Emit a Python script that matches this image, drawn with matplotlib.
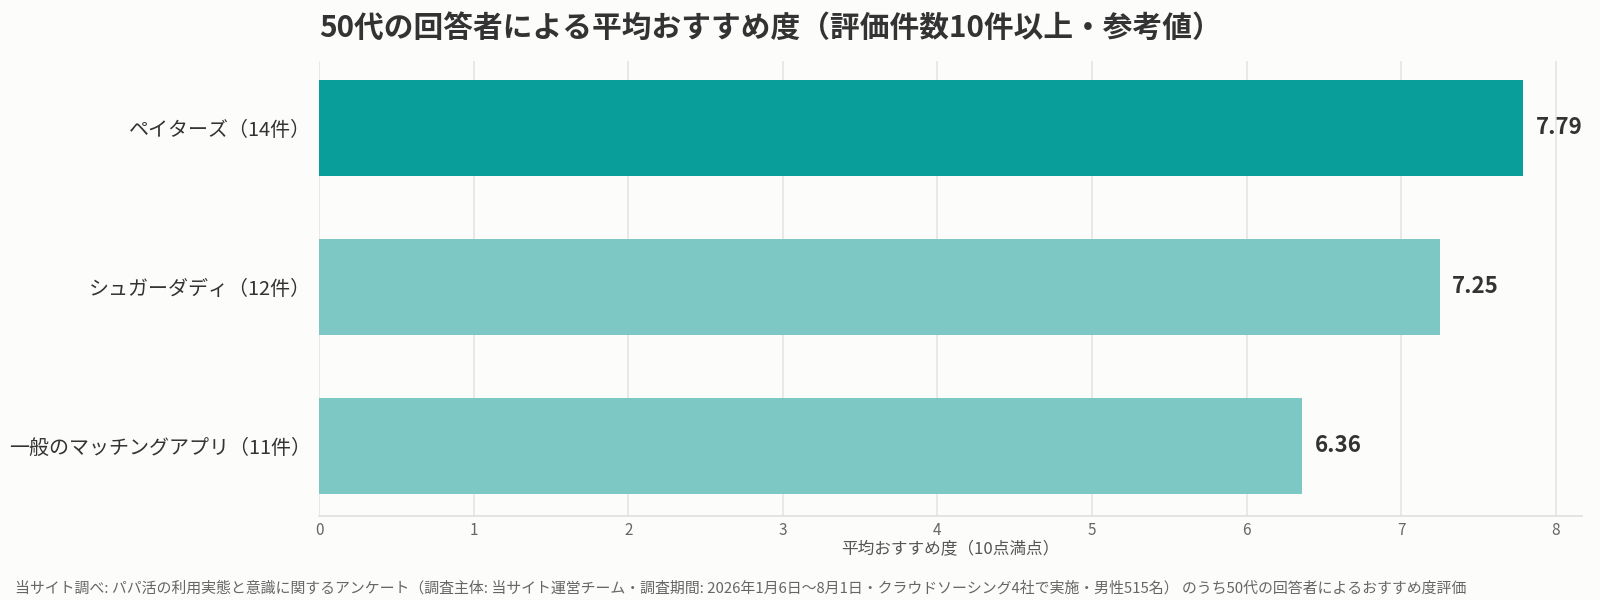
import matplotlib
matplotlib.use('Agg')
import matplotlib.pyplot as plt

plt.rcParams['font.family'] = ['Noto Sans CJK JP', 'DejaVu Sans']

# data
labels = ['ペイターズ（14件）', 'シュガーダディ（12件）', '一般のマッチングアプリ（11件）']
scores = [7.79, 7.25, 6.36]
colors = ['#0a9e9a', '#7dc7c4', '#7dc7c4']
ticks = [0, 1, 2, 3, 4, 5, 6, 7, 8]

bg = '#fcfcfb'
fig = plt.figure(figsize=(16, 6), dpi=100, facecolor=bg)
# axes box measured in pixels from the reference
L, R, T, B = 319, 1582, 61, 516
ax = fig.add_axes([L/1600, 1-B/600, (R-L)/1600, (B-T)/600])
ax.set_facecolor(bg)

y = list(range(len(labels)))
ax.barh(y, scores, height=0.6, color=colors, zorder=3)
for yi, v in zip(y, scores):
    ax.text(v + 0.08, yi, f'{v:.2f}', va='center', ha='left',
            fontsize=16, fontweight='bold', color='#333333')

ax.set_ylim(2.44, -0.42)
ax.set_xlim(0, 8.17)
ax.set_yticks(y)
ax.set_yticklabels(labels, fontsize=14.4, color='#333333')
ax.set_xticks(ticks)
ax.set_xticklabels([str(t) for t in ticks], fontsize=11, color='#666666')
ax.tick_params(axis='y', length=0, pad=6)
ax.tick_params(axis='x', length=0, pad=4)
ax.grid(axis='x', color='#e4e4e4', linewidth=1.2, zorder=0)
for s in ['top', 'right', 'left']:
    ax.spines[s].set_visible(False)
ax.spines['bottom'].set_color('#e0e0e0')
ax.spines['bottom'].set_linewidth(1.2)
ax.set_xlabel('平均おすすめ度（10点満点）', fontsize=12, color='#555555', labelpad=2)

fig.text(L/1600, 1-28/600, '50代の回答者による平均おすすめ度（評価件数10件以上・参考値）',
         fontsize=21.4, fontweight='bold', color='#333333', va='center', ha='left')
fig.text(15/1600, 1-588/600,
         '当サイト調べ: パパ活の利用実態と意識に関するアンケート（調査主体: 当サイト運営チーム・調査期間: 2026年1月6日〜8月1日・クラウドソーシング4社で実施・男性515名） のうち50代の回答者によるおすすめ度評価',
         fontsize=10.75, color='#666666', va='center', ha='left')

fig.savefig('out.png', dpi=100, facecolor=bg)
